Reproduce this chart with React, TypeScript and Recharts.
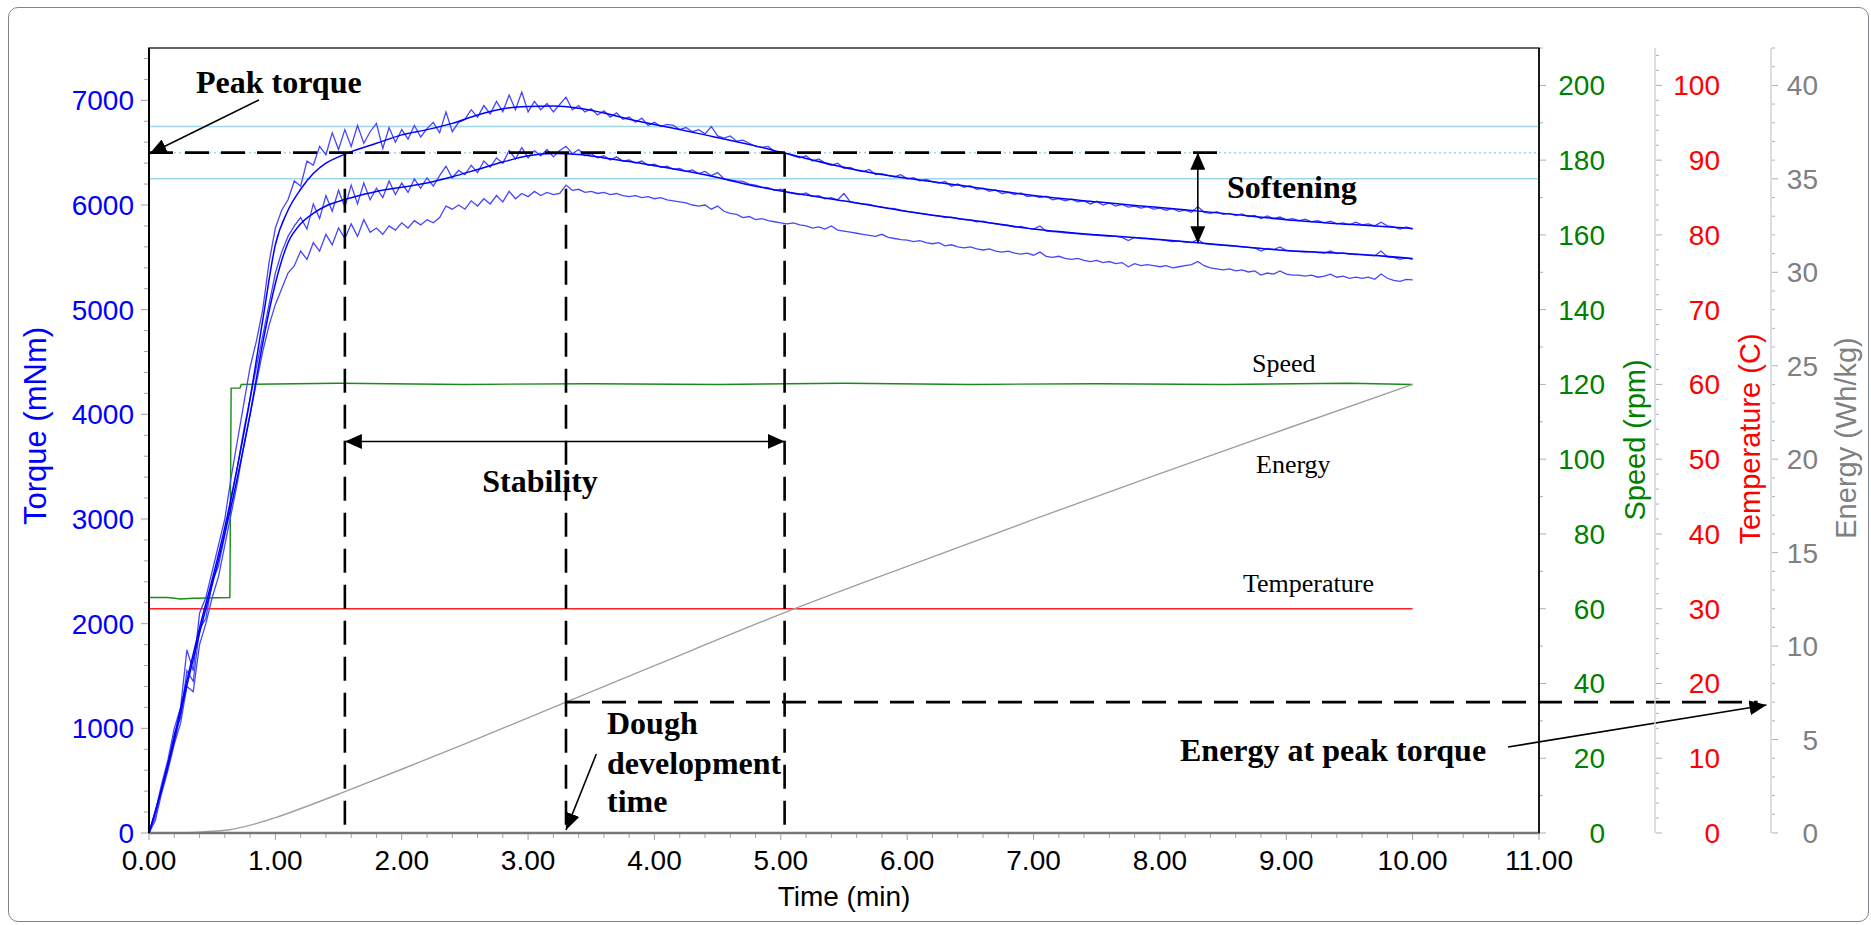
import React from 'react';
import { ComposedChart, Line, XAxis, YAxis, ReferenceLine, ReferenceArea } from 'recharts';

const SANS = '"Liberation Sans", Arial, sans-serif';
const SERIF = '"Liberation Serif", "Times New Roman", serif';

// raw torque traces (mNm), one sample every 0.05 min from 0 to 10 min
const rawStep = 0.05;
const upperRaw = [
  0, 200, 470, 700, 1000, 1200, 1750, 1550, 2100, 2250, 2500, 2750, 3000, 3400, 3750, 4100, 4450, 4700, 5000, 5450,
  5780, 5950, 6050, 6230, 6180, 6420, 6380, 6560, 6480, 6690, 6530, 6720, 6560, 6760, 6590, 6700, 6780, 6540, 6740, 6600,
  6720, 6630, 6760, 6650, 6730, 6790, 6690, 6890, 6700, 6790, 6820, 6910, 6840, 6950, 6870, 6990, 6890, 7050, 6910, 7080,
  6890, 6990, 6910, 6970, 6890, 6960, 7030, 6910, 6950, 6890, 6920, 6860, 6900, 6840, 6880, 6820, 6840, 6790, 6830, 6760,
  6790, 6750, 6770, 6760, 6720, 6740, 6700, 6720, 6680, 6750, 6660, 6640, 6660, 6610, 6620, 6590, 6560, 6550, 6560, 6510,
  6500, 6490, 6470, 6450, 6470, 6420, 6440, 6400, 6380, 6400, 6350, 6360, 6330, 6320, 6340, 6290, 6300, 6280, 6270, 6290,
  6250, 6260, 6230, 6245, 6220, 6210, 6225, 6180, 6200, 6170, 6185, 6150, 6160, 6130, 6145, 6110, 6120, 6100, 6115, 6080,
  6090, 6070, 6085, 6050, 6060, 6040, 6055, 6030, 6040, 6010, 6035, 6000, 6020, 5990, 6005, 5980, 5990, 5970, 5985, 5960,
  5970, 5950, 5965, 5940, 5950, 5930, 5985, 5930, 5920, 5935, 5910, 5920, 5900, 5915, 5890, 5900, 5870, 5895, 5870, 5885,
  5860, 5870, 5850, 5865, 5840, 5850, 5830, 5845, 5820, 5830, 5810, 5835, 5810, 5820, 5800, 5835, 5800, 5790, 5770, 5790,
  5770,
];
const middleRaw = [
  0, 150, 430, 620, 950, 1100, 1550, 1450, 1950, 2050, 2400, 2550, 2850, 3200, 3500, 3850, 4150, 4450, 4750, 5050,
  5350, 5550, 5700, 5800, 5880, 5770, 6010, 5870, 6090, 5940, 6140, 5980, 6190, 6010, 6210, 6050, 6160, 6070, 6230, 6100,
  6210, 6120, 6250, 6160, 6260, 6180, 6280, 6370, 6260, 6330, 6290, 6380, 6310, 6420, 6360, 6450, 6400, 6520, 6440, 6550,
  6450, 6520, 6470, 6530, 6460, 6520, 6560, 6490, 6530, 6470, 6490, 6450, 6470, 6430, 6460, 6420, 6430, 6400, 6420, 6380,
  6390, 6360, 6370, 6340, 6350, 6320, 6335, 6300, 6320, 6280, 6310, 6250, 6240, 6230, 6225, 6200, 6190, 6170, 6165, 6140,
  6150, 6120, 6110, 6100, 6115, 6080, 6090, 6060, 6070, 6050, 6110, 6030, 6020, 6010, 6005, 5990, 5980, 5970, 5965, 5950,
  5940, 5930, 5920, 5910, 5900, 5895, 5880, 5885, 5870, 5860, 5855, 5840, 5845, 5830, 5820, 5810, 5805, 5790, 5795, 5780,
  5770, 5800, 5750, 5745, 5740, 5735, 5730, 5725, 5720, 5715, 5710, 5705, 5700, 5700, 5690, 5660, 5690, 5680, 5680, 5670,
  5670, 5660, 5650, 5655, 5645, 5640, 5670, 5630, 5625, 5620, 5615, 5610, 5605, 5600, 5595, 5590, 5560, 5585, 5575, 5600,
  5565, 5560, 5555, 5550, 5555, 5545, 5540, 5560, 5535, 5540, 5530, 5525, 5525, 5520, 5515, 5560, 5505, 5500, 5480, 5495,
  5480,
];
const lowerRaw = [
  0, 120, 380, 600, 850, 1050, 1400, 1350, 1800, 2000, 2250, 2450, 2750, 3050, 3350, 3700, 4000, 4300, 4600, 4850,
  5050, 5200, 5350, 5420, 5560, 5480, 5640, 5560, 5720, 5620, 5780, 5680, 5820, 5700, 5860, 5740, 5780, 5720, 5800, 5760,
  5830, 5780, 5850, 5810, 5860, 5830, 5880, 5990, 5960, 6000, 5960, 6040, 5990, 6060, 6010, 6090, 6030, 6130, 6060, 6110,
  6080, 6130, 6090, 6120, 6100, 6110, 6190, 6140, 6150, 6120, 6130, 6110, 6120, 6100, 6110, 6090, 6080, 6090, 6070, 6080,
  6060, 6070, 6050, 6040, 6030, 6020, 6000, 5990, 6000, 5960, 5990, 5940, 5920, 5910, 5880, 5890, 5860, 5870, 5850, 5840,
  5830, 5820, 5830, 5810, 5800, 5780, 5790, 5770, 5800, 5760, 5750, 5740, 5730, 5720, 5710, 5700, 5720, 5690, 5680, 5670,
  5665, 5650, 5660, 5640, 5630, 5640, 5610, 5620, 5600, 5590, 5600, 5580, 5570, 5580, 5560, 5550, 5560, 5540, 5530, 5540,
  5520, 5550, 5510, 5500, 5510, 5490, 5480, 5490, 5470, 5460, 5470, 5450, 5460, 5440, 5450, 5410, 5440, 5420, 5430, 5420,
  5410, 5420, 5400, 5410, 5420, 5430, 5460, 5420, 5400, 5390, 5380, 5390, 5370, 5380, 5360, 5370, 5330, 5350, 5340, 5370,
  5340, 5330, 5330, 5320, 5330, 5310, 5320, 5340, 5310, 5320, 5300, 5310, 5300, 5310, 5290, 5340, 5300, 5280, 5270, 5290,
  5285,
];

// smoothed torque curves
const smoothTimes = [0, 0.1, 0.2, 0.3, 0.4, 0.5, 0.6, 0.7, 0.8, 0.9, 1.0, 1.1, 1.2, 1.3, 1.4, 1.5, 1.6, 1.8, 2.0, 2.2, 2.4,
  2.6, 2.8, 3.0, 3.2, 3.4, 3.6, 3.8, 4.0, 4.4, 4.8, 5.2, 5.6, 6.0, 6.5, 7.0, 7.5, 8.0, 8.5, 9.0, 9.5, 10.0];
const upperSmooth = [0, 430, 920, 1460, 1960, 2420, 2920, 3500, 4150, 4900, 5620, 5950, 6150, 6300, 6400, 6460, 6510, 6590,
  6670, 6720, 6780, 6860, 6920, 6940, 6945, 6925, 6880, 6820, 6770, 6670, 6565, 6445, 6335, 6255, 6175, 6090, 6030, 5975,
  5920, 5860, 5815, 5775];
const middleSmooth = [0, 410, 880, 1410, 1910, 2370, 2860, 3400, 4000, 4680, 5250, 5640, 5820, 5920, 5990, 6035, 6070, 6130,
  6170, 6210, 6270, 6340, 6410, 6470, 6492, 6482, 6450, 6415, 6375, 6288, 6180, 6095, 6020, 5938, 5857, 5770, 5715, 5670,
  5618, 5565, 5535, 5490];

// energy (Wh/kg)
const energyTimes = [0, 0.25, 0.5, 0.65, 0.75, 1.0, 1.25, 1.55, 2.0, 2.5, 3.0, 3.3, 4.0, 5.09, 6.0, 7.0, 8.0, 9.0, 10.0];
const energyValues = [0, 0, 0.09, 0.19, 0.33, 0.82, 1.43, 2.21, 3.41, 4.77, 6.16, 7.0, 8.95, 11.95, 14.27, 16.78, 19.23, 21.63, 24.0];

// mixer speed (rpm)
const speedTimes = [0, 0.15, 0.25, 0.35, 0.64, 0.65, 0.72, 0.73, 1.5, 2.5, 3.5, 4.5, 5.5, 6.5, 7.5, 8.5, 9.5, 10.0];
const speedValues = [63, 63, 62.6, 62.8, 63, 119, 119, 120, 120.3, 120, 120.2, 120, 120.3, 120, 120.2, 120, 120.3, 120];

// temperature (C)
const tempTimes = [0, 5, 10];
const tempValues = [30, 30, 30];

// analysis results
const peakTorque = 6500;
const toleranceBand = [6250, 6750];
const peakLineEnd = 8.52;
const stabilityStart = 1.55;
const stabilityEnd = 5.03;
const devTime = 3.3;
const stabilityArrowLevel = 3741;
const softeningTime = 8.3;
const softeningLow = 5634;
const energyAtPeak = 7.0;
const energyLineEnd = 12.73;

// axis ticks
const timeLabels = [0, 1, 2, 3, 4, 5, 6, 7, 8, 9, 10, 11];
const torqueLabels = [0, 1000, 2000, 3000, 4000, 5000, 6000, 7000];
const speedLabels = [0, 20, 40, 60, 80, 100, 120, 140, 160, 180, 200];
const tempLabels = [0, 10, 20, 30, 40, 50, 60, 70, 80, 90, 100];
const energyLabels = [0, 5, 10, 15, 20, 25, 30, 35, 40];

const steps = (max: number, step: number) => {
  const out: number[] = [];
  for (let i = 0; i * step <= max + 1e-9; i++) out.push(Math.round(i * step * 100) / 100);
  return out;
};
const timeTicks = steps(11, 0.2);
const torqueTicks = steps(7400, 200);
const speedTicks = steps(210, 10);
const tempTicks = steps(104, 2);
const energyTicks = steps(42, 1);

const pts = (ts: number[], vs: number[]) => ts.map((t, i) => ({ t, v: vs[i] }));
const rawPts = (vs: number[]) => vs.map((v, i) => ({ t: Math.round(i * rawStep * 100) / 100, v }));

const isIn = (list: number[], v: number) => list.some((l) => Math.abs(l - v) < 1e-6);

// axis ids are ordered so the right-hand axes stack speed, temperature, energy
const SPEED = 'r1';
const TEMP = 'r2';
const ENERGY = 'r3';

const XTick = (props: any) => {
  const { x, y, payload } = props;
  const major = isIn(timeLabels, payload.value);
  return (
    <g>
      <line x1={x} x2={x} y1={y + 1} y2={y + (major ? 7 : 5)} stroke="#a0a0a0" />
      {major && (
        <text x={x} y={y + 37} textAnchor="middle" fontSize={28} fontFamily={SANS} fill="#000">
          {payload.value.toFixed(2)}
        </text>
      )}
    </g>
  );
};

const TorqueTick = (props: any) => {
  const { x, y, payload } = props;
  const major = isIn(torqueLabels, payload.value);
  return (
    <g>
      <line x1={x - 1} x2={x - (major ? 8 : 5)} y1={y} y2={y} stroke="#a0a0a0" />
      {major && (
        <text x={x - 15} y={y + 10} textAnchor="end" fontSize={28} fontFamily={SANS} fill="#0000ff">
          {payload.value}
        </text>
      )}
    </g>
  );
};

const rightTick = (labels: number[], color: string, labelOffset: number) => (props: any) => {
  const { x, y, payload } = props;
  const major = isIn(labels, payload.value);
  return (
    <g>
      <line x1={x + 1} x2={x + (major ? 7 : 4)} y1={y} y2={y} stroke="#b0b0b0" />
      {major && (
        <text x={x + labelOffset} y={y + 10} textAnchor="end" fontSize={28} fontFamily={SANS} fill={color}>
          {payload.value}
        </text>
      )}
    </g>
  );
};

const arrowShape = (both: boolean) => (p: any) => (
  <line
    x1={p.x1}
    y1={p.y1}
    x2={p.x2}
    y2={p.y2}
    stroke="#000"
    strokeWidth={1.6}
    markerEnd="url(#ahead)"
    markerStart={both ? 'url(#ahead)' : undefined}
  />
);

const dash = { stroke: '#000', strokeWidth: 2.6, strokeDasharray: '24 12', ifOverflow: 'visible' as const };

export default function App() {
  return (
    <div style={{ position: 'absolute', left: 0, top: 0, width: 1871, height: 925, background: '#fff' }}>
      <svg width={0} height={0} style={{ position: 'absolute' }}>
        <defs>
          <marker id="ahead" markerUnits="userSpaceOnUse" markerWidth={17} markerHeight={15} refX={17} refY={7.5} orient="auto-start-reverse">
            <path d="M0,0 L17,7.5 L0,15 z" fill="#000" />
          </marker>
        </defs>
      </svg>
      <div
        style={{
          position: 'absolute', left: 8, top: 7, width: 1861, height: 915, boxSizing: 'border-box',
          border: '1.5px solid #80868e', borderRadius: 10,
        }}
      />
      <div style={{ position: 'absolute', left: 0, top: 0 }}>
        <ComposedChart width={1871} height={925} margin={{ top: 48, right: 0, bottom: 0, left: 0 }}>
          <XAxis
            type="number"
            dataKey="t"
            domain={[0, 11]}
            ticks={timeTicks}
            interval={0}
            height={92}
            tickSize={0}
            tickMargin={0}
            tickLine={false}
            tick={<XTick />}
            axisLine={{ stroke: '#777', strokeWidth: 2.5 }}
          />
          <YAxis
            yAxisId="torque"
            orientation="left"
            width={149}
            domain={[0, 7500]}
            ticks={torqueTicks}
            interval={0}
            tickSize={0}
            tickMargin={0}
            tickLine={false}
            tick={<TorqueTick />}
            axisLine={{ stroke: '#000', strokeWidth: 2 }}
          />
          <YAxis
            yAxisId={SPEED}
            orientation="right"
            width={116}
            domain={[0, 210]}
            ticks={speedTicks}
            interval={0}
            tickSize={0}
            tickMargin={0}
            tickLine={false}
            tick={rightTick(speedLabels, '#008000', 66)}
            axisLine={{ stroke: '#000', strokeWidth: 1.5 }}
          />
          <YAxis
            yAxisId={TEMP}
            orientation="right"
            width={116}
            domain={[0, 105]}
            ticks={tempTicks}
            interval={0}
            tickSize={0}
            tickMargin={0}
            tickLine={false}
            tick={rightTick(tempLabels, '#ff0000', 65)}
            axisLine={{ stroke: '#cfd3d8', strokeWidth: 1.5 }}
          />
          <YAxis
            yAxisId={ENERGY}
            orientation="right"
            width={100}
            domain={[0, 42]}
            ticks={energyTicks}
            interval={0}
            tickSize={0}
            tickMargin={0}
            tickLine={false}
            tick={rightTick(energyLabels, '#808080', 47)}
            axisLine={{ stroke: '#cfd3d8', strokeWidth: 1.5 }}
          />

          <ReferenceArea yAxisId="torque" x1={0} x2={11} y1={0} y2={7500} fill="none" stroke="#333" strokeWidth={1.5} ifOverflow="visible" />
          <ReferenceLine yAxisId="torque" y={toleranceBand[1]} stroke="#9fd6ee" strokeWidth={1.5} />
          <ReferenceLine yAxisId="torque" y={toleranceBand[0]} stroke="#9fd6ee" strokeWidth={1.5} />
          <ReferenceLine yAxisId="torque" y={peakTorque} stroke="#9fd6ee" strokeWidth={1.5} strokeDasharray="2 3" />

          <Line yAxisId={TEMP} data={pts(tempTimes, tempValues)} dataKey="v" stroke="#ff2020" strokeWidth={1.4} dot={false} isAnimationActive={false} />
          <Line yAxisId={SPEED} data={pts(speedTimes, speedValues)} dataKey="v" type="linear" stroke="#1a8a1a" strokeWidth={1.4} dot={false} isAnimationActive={false} />
          <Line yAxisId={ENERGY} data={pts(energyTimes, energyValues)} dataKey="v" type="monotone" stroke="#a0a0a0" strokeWidth={1.4} dot={false} isAnimationActive={false} />

          <Line yAxisId="torque" data={rawPts(lowerRaw)} dataKey="v" type="linear" stroke="#4646ff" strokeWidth={1.3} dot={false} isAnimationActive={false} />
          <Line yAxisId="torque" data={rawPts(middleRaw)} dataKey="v" type="linear" stroke="#4646ff" strokeWidth={1.3} dot={false} isAnimationActive={false} />
          <Line yAxisId="torque" data={rawPts(upperRaw)} dataKey="v" type="linear" stroke="#4646ff" strokeWidth={1.3} dot={false} isAnimationActive={false} />
          <Line yAxisId="torque" data={pts(smoothTimes, middleSmooth)} dataKey="v" type="monotone" stroke="#0000ff" strokeWidth={1.5} dot={false} isAnimationActive={false} />
          <Line yAxisId="torque" data={pts(smoothTimes, upperSmooth)} dataKey="v" type="monotone" stroke="#0000ff" strokeWidth={1.5} dot={false} isAnimationActive={false} />

          <ReferenceLine yAxisId="torque" segment={[{ x: 0, y: peakTorque }, { x: peakLineEnd, y: peakTorque }]} {...dash} />
          <ReferenceLine yAxisId="torque" segment={[{ x: stabilityStart, y: peakTorque }, { x: stabilityStart, y: 0 }]} {...dash} />
          <ReferenceLine yAxisId="torque" segment={[{ x: devTime, y: peakTorque }, { x: devTime, y: 0 }]} {...dash} />
          <ReferenceLine yAxisId="torque" segment={[{ x: stabilityEnd, y: peakTorque }, { x: stabilityEnd, y: 0 }]} {...dash} />
          <ReferenceLine yAxisId={ENERGY} segment={[{ x: devTime, y: energyAtPeak }, { x: energyLineEnd, y: energyAtPeak }]} {...dash} />

          <ReferenceLine yAxisId="torque" ifOverflow="visible" segment={[{ x: stabilityStart, y: stabilityArrowLevel }, { x: stabilityEnd, y: stabilityArrowLevel }]} shape={arrowShape(true)} />
          <ReferenceLine yAxisId="torque" ifOverflow="visible" segment={[{ x: softeningTime, y: peakTorque }, { x: softeningTime, y: softeningLow }]} shape={arrowShape(true)} />
          <ReferenceLine yAxisId="torque" ifOverflow="visible" segment={[{ x: 0.87, y: 7003 }, { x: 0.005, y: 6490 }]} shape={arrowShape(false)} />
          <ReferenceLine yAxisId="torque" ifOverflow="visible" segment={[{ x: 3.54, y: 755 }, { x: devTime, y: 29 }]} shape={arrowShape(false)} />
          <ReferenceLine yAxisId={ENERGY} ifOverflow="visible" segment={[{ x: 10.755, y: 4.6 }, { x: 12.8, y: 6.85 }]} shape={arrowShape(false)} />
        </ComposedChart>
      </div>

      <svg width={1871} height={925} style={{ position: 'absolute', left: 0, top: 0, pointerEvents: 'none' }}>
        <g fontFamily={SANS} fontSize={29} textAnchor="middle">
          <text transform="translate(46,426) rotate(-90)" fill="#0000ff" fontSize={31}>Torque (mNm)</text>
          <text transform="translate(1645,440) rotate(-90)" fill="#008000">Speed (rpm)</text>
          <text transform="translate(1760,439) rotate(-90)" fill="#ff0000">Temperature (C)</text>
          <text transform="translate(1856,438) rotate(-90)" fill="#808080">Energy (Wh/kg)</text>
          <text x={844} y={906} fill="#000" fontSize={28}>Time (min)</text>
        </g>
        <g fontFamily={SERIF} fontWeight="bold" fontSize={32} fill="#000">
          <text x={196} y={93}>Peak torque</text>
          <text x={1227} y={198}>Softening</text>
          <text x={540} y={492} textAnchor="middle">Stability</text>
          <text x={607} y={734}>Dough</text>
          <text x={607} y={774}>development</text>
          <text x={607} y={812}>time</text>
          <text x={1180} y={761}>Energy at peak torque</text>
        </g>
        <g fontFamily={SERIF} fontSize={26} fill="#000">
          <text x={1252} y={372}>Speed</text>
          <text x={1256} y={473}>Energy</text>
          <text x={1243} y={592}>Temperature</text>
        </g>
      </svg>
    </div>
  );
}
